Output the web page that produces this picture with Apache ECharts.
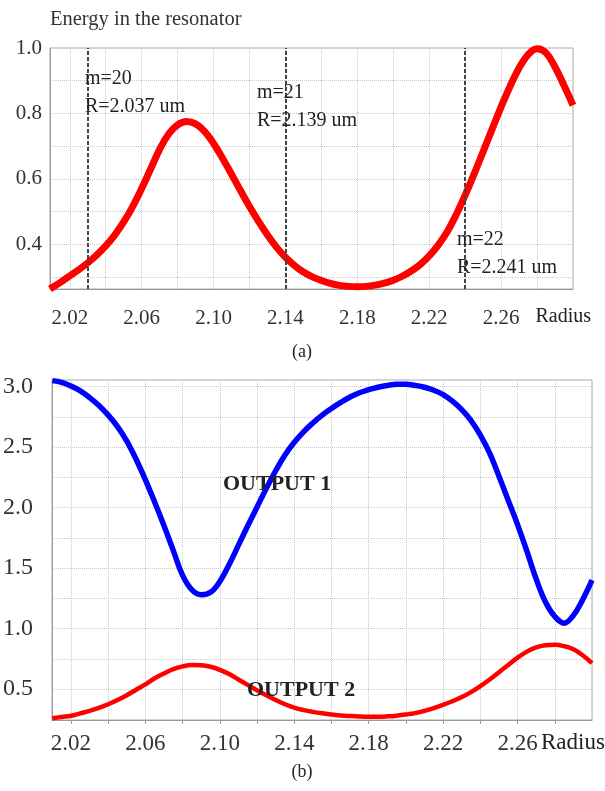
<!DOCTYPE html>
<html>
<head>
<meta charset="utf-8">
<script src="https://cdn.jsdelivr.net/npm/echarts@6.0.0/dist/echarts.min.js"></script>
<style>
  body { margin: 0; background: #fff; }
  #main { width: 605px; height: 791px; }
</style>
</head>
<body>
<div id="main"></div>
<script>
// (a) energy in the resonator
var rTop = [2.009, 2.015, 2.02, 2.025, 2.03, 2.035, 2.04, 2.045, 2.05, 2.055, 2.06, 2.065, 2.07, 2.075, 2.08, 2.085,
  2.09, 2.095, 2.10, 2.105, 2.11, 2.115, 2.12, 2.125, 2.13, 2.135, 2.14, 2.145, 2.15, 2.155, 2.16, 2.165, 2.17,
  2.175, 2.18, 2.185, 2.19, 2.195, 2.20, 2.205, 2.21, 2.215, 2.22, 2.225, 2.23, 2.235, 2.24, 2.245, 2.25, 2.255,
  2.26, 2.265, 2.27, 2.275, 2.28, 2.285, 2.29, 2.295, 2.30];
var energy = [0.263, 0.284, 0.303, 0.322, 0.343, 0.367, 0.395, 0.428, 0.468, 0.515, 0.57, 0.63, 0.69, 0.737, 0.765, 0.775,
  0.768, 0.745, 0.708, 0.663, 0.614, 0.564, 0.515, 0.47, 0.428, 0.391, 0.36, 0.335, 0.315, 0.3, 0.289, 0.28, 0.274,
  0.271, 0.27, 0.271, 0.275, 0.281, 0.29, 0.302, 0.318, 0.338, 0.364, 0.397, 0.438, 0.49, 0.55, 0.615, 0.683, 0.752,
  0.82, 0.883, 0.939, 0.98, 0.998, 0.985, 0.942, 0.885, 0.825];
var resonanceR = [2.030, 2.136, 2.241];
var resonanceText = ['m=20\nR=2.037 um', 'm=21\nR=2.139 um', 'm=22\nR=2.241 um'];

// (b) outputs
var rOut = [2.010, 2.015, 2.02, 2.025, 2.03, 2.035, 2.04, 2.045, 2.05, 2.055, 2.06, 2.065, 2.07, 2.075, 2.08, 2.085,
  2.09, 2.095, 2.10, 2.105, 2.11, 2.115, 2.12, 2.125, 2.13, 2.135, 2.14, 2.145, 2.15, 2.155, 2.16, 2.165, 2.17,
  2.175, 2.18, 2.185, 2.19, 2.195, 2.20, 2.205, 2.21, 2.215, 2.22, 2.225, 2.23, 2.235, 2.24, 2.245, 2.25, 2.255,
  2.26, 2.265, 2.27, 2.275, 2.28, 2.285, 2.29, 2.295, 2.30];
var output1 = [3.05, 3.035, 3.005, 2.965, 2.91, 2.845, 2.765, 2.67, 2.55, 2.40, 2.23, 2.045, 1.85, 1.645, 1.44, 1.32,
  1.28, 1.30, 1.39, 1.53, 1.69, 1.85, 2.005, 2.16, 2.305, 2.435, 2.54, 2.627, 2.70, 2.765, 2.82, 2.87, 2.915,
  2.95, 2.975, 2.995, 3.01, 3.02, 3.02, 3.01, 2.995, 2.97, 2.935, 2.88, 2.81, 2.72, 2.60, 2.45, 2.26, 2.06,
  1.86, 1.64, 1.41, 1.22, 1.10, 1.045, 1.11, 1.24, 1.40];
var output2 = [0.26, 0.27, 0.28, 0.30, 0.32, 0.345, 0.375, 0.41, 0.45, 0.495, 0.54, 0.59, 0.63, 0.665, 0.688, 0.70,
  0.698, 0.685, 0.66, 0.625, 0.58, 0.535, 0.49, 0.45, 0.41, 0.375, 0.347, 0.327, 0.312, 0.30, 0.29, 0.283, 0.278,
  0.274, 0.272, 0.272, 0.275, 0.281, 0.29, 0.302, 0.32, 0.343, 0.37, 0.40, 0.435, 0.475, 0.525, 0.58, 0.64, 0.70,
  0.76, 0.81, 0.845, 0.862, 0.866, 0.855, 0.83, 0.78, 0.715];

// axis ticks
var xGridTicks = [2.02, 2.04, 2.06, 2.08, 2.10, 2.12, 2.14, 2.16, 2.18, 2.20, 2.22, 2.24, 2.26, 2.28];
var xTickLabels = [2.02, 2.06, 2.10, 2.14, 2.18, 2.22, 2.26];
var yTopGrid = [0.3, 0.4, 0.5, 0.6, 0.7, 0.8, 0.9];
var yTopLabels = [0.4, 0.6, 0.8, 1.0];
var yBotGrid = [0.5, 0.75, 1.0, 1.25, 1.5, 1.75, 2.0, 2.25, 2.5, 2.75, 3.0];
var yBotLabels = [0.5, 1.0, 1.5, 2.0, 2.5, 3.0];

function pairs(xs, ys) {
  return xs.map(function (x, i) { return [x, ys[i]]; });
}

var serif = 'Liberation Serif';
var gridLine = { show: true, lineStyle: { color: '#c8c8c8', type: 'dotted', width: 1 } };

var myChart = echarts.init(document.getElementById('main'));

var texts = [
  { x: 302, y: 352, text: '(a)', size: 18, align: 'center' },
  { x: 302, y: 772, text: '(b)', size: 18, align: 'center' },
  { x: 591, y: 317, text: 'Radius', size: 20, align: 'right' },
  { x: 541, y: 743, text: 'Radius', size: 23, align: 'left' },
  { x: 85, y: 93, text: resonanceText[0], size: 20, align: 'left' },
  { x: 257, y: 107, text: resonanceText[1], size: 20, align: 'left' },
  { x: 457, y: 254, text: resonanceText[2], size: 20, align: 'left' },
  { x: 223, y: 484, text: 'OUTPUT 1', size: 22, align: 'left', bold: true },
  { x: 247, y: 690, text: 'OUTPUT 2', size: 22, align: 'left', bold: true }
];

var option = {
  backgroundColor: '#fff',
  animation: false,
  title: {
    text: 'Energy in the resonator',
    left: 45,
    top: 4,
    textStyle: { fontFamily: serif, fontSize: 20.5, fontWeight: 'normal', color: '#333' }
  },
  grid: [
    { left: 50, top: 48, width: 523, height: 241, show: true, borderColor: '#aaa', borderWidth: 1 },
    { left: 52, top: 380, width: 540, height: 340, show: true, borderColor: '#aaa', borderWidth: 1 }
  ],
  xAxis: [
    {
      gridIndex: 0, type: 'value', min: 2.009, max: 2.30,
      axisLine: { lineStyle: { color: '#999' } },
      axisTick: { show: false, customValues: xGridTicks },
      splitLine: gridLine,
      axisLabel: {
        customValues: xTickLabels, margin: 19, fontFamily: serif, fontSize: 21, color: '#333',
        formatter: function (v) { return v.toFixed(2); }
      }
    },
    {
      gridIndex: 1, type: 'value', min: 2.0098, max: 2.30,
      axisLine: { lineStyle: { color: '#999' } },
      axisTick: { show: true, length: 4, customValues: xGridTicks, lineStyle: { color: '#999' } },
      splitLine: gridLine,
      axisLabel: {
        customValues: xTickLabels, margin: 12, fontFamily: serif, fontSize: 23, color: '#333',
        formatter: function (v) { return v.toFixed(2); }
      }
    }
  ],
  yAxis: [
    {
      gridIndex: 0, type: 'value', min: 0.263, max: 1.0,
      axisLine: { show: true, lineStyle: { color: '#999' } },
      axisTick: { show: false, customValues: yTopGrid },
      splitLine: gridLine,
      axisLabel: {
        customValues: yTopLabels, margin: 8, fontFamily: serif, fontSize: 21, color: '#333',
        formatter: function (v) { return v.toFixed(1); }
      }
    },
    {
      gridIndex: 1, type: 'value', min: 0.245, max: 3.055,
      axisLine: { show: true, lineStyle: { color: '#999' } },
      axisTick: { show: false, customValues: yBotGrid },
      splitLine: gridLine,
      axisLabel: {
        customValues: yBotLabels, margin: 19, fontFamily: serif, fontSize: 24, color: '#333',
        formatter: function (v) { return v.toFixed(1); }
      }
    }
  ],
  series: [
    {
      name: 'Energy', type: 'line', xAxisIndex: 0, yAxisIndex: 0,
      data: pairs(rTop, energy), smooth: 0.4, showSymbol: false,
      lineStyle: { color: '#ff0000', width: 7 },
      markLine: {
        silent: true, symbol: 'none', label: { show: false },
        lineStyle: { color: '#444', type: [4, 2], width: 2 },
        data: resonanceR.map(function (r) { return { xAxis: r }; })
      }
    },
    {
      name: 'OUTPUT 1', type: 'line', xAxisIndex: 1, yAxisIndex: 1,
      data: pairs(rOut, output1), smooth: 0.4, showSymbol: false,
      lineStyle: { color: '#0000ff', width: 5.5 }
    },
    {
      name: 'OUTPUT 2', type: 'line', xAxisIndex: 1, yAxisIndex: 1,
      data: pairs(rOut, output2), smooth: 0.4, showSymbol: false,
      lineStyle: { color: '#ff0000', width: 4.5 }
    }
  ],
  graphic: texts.map(function (t) {
    return {
      type: 'text', x: t.x, y: t.y, z: 100,
      style: {
        text: t.text, fill: '#222', fontFamily: serif, fontSize: t.size,
        fontWeight: t.bold ? 'bold' : 'normal', textAlign: t.align,
        textVerticalAlign: 'middle', lineHeight: 28
      }
    };
  })
};

myChart.setOption(option);
</script>
</body>
</html>
